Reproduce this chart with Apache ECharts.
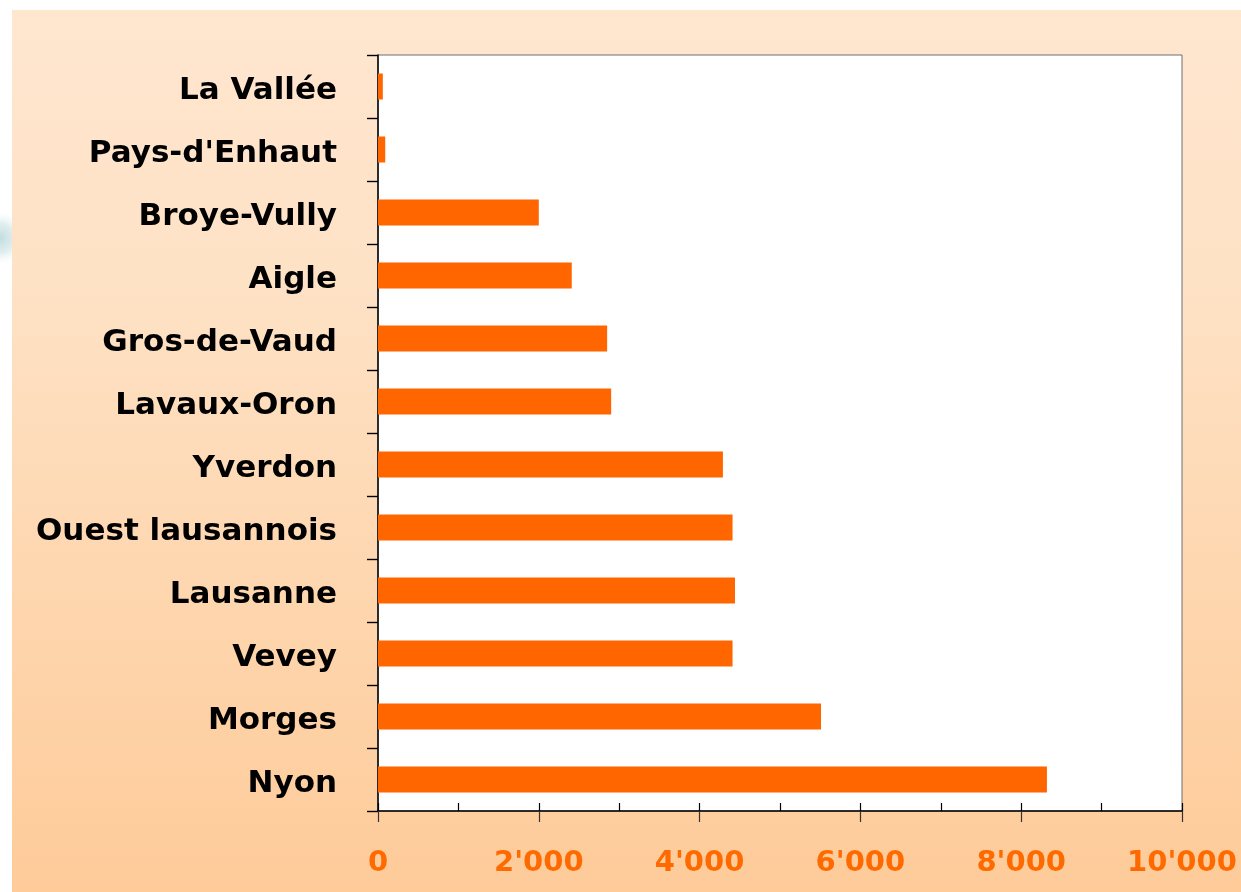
<!DOCTYPE html>
<html>
<head>
<meta charset="utf-8">
<script src="https://cdn.jsdelivr.net/npm/echarts@6/dist/echarts.min.js"></script>
<style>
  html, body { margin: 0; padding: 0; background: #fff; }
  #chart { width: 1241px; height: 892px; }
</style>
</head>
<body>
<div id="chart"></div>
<script>
  // districts, top to bottom
  var districts = ['La Vallée', "Pays-d'Enhaut", 'Broye-Vully', 'Aigle', 'Gros-de-Vaud', 'Lavaux-Oron',
    'Yverdon', 'Ouest lausannois', 'Lausanne', 'Vevey', 'Morges', 'Nyon'];
  var values = [60, 90, 2000, 2410, 2850, 2900, 4290, 4410, 4440, 4410, 5510, 8320];
  var xMax = 10000;

  var chart = echarts.init(document.getElementById('chart'));

  // 10000 -> 10'000
  function fmt (v) {
    return String(v).replace(/\B(?=(\d{3})+(?!\d))/g, "'");
  }

  var option = {
    animation: false,
    graphic: [
      {
        // pale teal smudge in the white margin, left edge
        type: 'ellipse',
        z: -11,
        shape: { cx: 0, cy: 238, rx: 26, ry: 75 },
        style: {
          fill: new echarts.graphic.RadialGradient(0.5, 0.5, 0.5, [
            { offset: 0, color: 'rgba(190,218,220,0.95)' },
            { offset: 0.55, color: 'rgba(210,230,232,0.7)' },
            { offset: 1, color: 'rgba(240,245,245,0)' }
          ])
        }
      },
      {
        type: 'rect',
        z: -10,
        shape: { x: 12, y: 10, width: 1229, height: 882 },
        style: {
          fill: new echarts.graphic.LinearGradient(0, 0, 0, 1, [
            { offset: 0, color: '#ffe6cf' },
            { offset: 0.3, color: '#fee2c6' },
            { offset: 1, color: '#fecb99' }
          ])
        }
      }
    ],
    grid: {
      left: 378, top: 55, right: 59, bottom: 81,
      show: true,
      backgroundColor: '#ffffff',
      borderColor: '#6e6e6e',
      borderWidth: 1
    },
    xAxis: [
      {
        type: 'value',
        min: 0, max: xMax, interval: 1000,
        position: 'bottom',
        splitLine: { show: false },
        axisLine: { show: true, lineStyle: { color: '#000', width: 1.5 } },
        axisTick: { show: true, inside: true, length: 8, lineStyle: { color: '#000', width: 1.2 } },
        axisLabel: {
          margin: 38,
          color: '#ff6a00',
          fontFamily: 'DejaVu Sans',
          fontWeight: 'bold',
          fontSize: 29,
          formatter: function (v) { return v % 2000 === 0 ? fmt(v) : ''; }
        }
      },
      {
        type: 'value',
        min: 0, max: xMax, interval: 2000,
        position: 'bottom',
        splitLine: { show: false },
        axisLine: { show: false },
        axisTick: { show: true, inside: false, length: 11, lineStyle: { color: '#333', width: 1.2 } },
        axisLabel: { show: false }
      }
    ],
    yAxis: {
      type: 'category',
      data: districts,
      inverse: true,
      axisLine: { show: true, lineStyle: { color: '#000', width: 1.5 } },
      axisTick: { show: true, length: 11, lineStyle: { color: '#000', width: 1.4 } },
      axisLabel: {
        margin: 41,
        formatter: function (v) { return '{d|' + v + '}'; },
        rich: {
          d: {
            color: '#000',
            fontFamily: 'DejaVu Sans',
            fontWeight: 'bold',
            fontSize: 31,
            padding: [9, 0, 0, 0]
          }
        }
      }
    },
    series: [
      {
        type: 'bar',
        data: values,
        barWidth: 26,
        itemStyle: { color: '#ff6600' }
      }
    ]
  };

  chart.setOption(option);
</script>
</body>
</html>
